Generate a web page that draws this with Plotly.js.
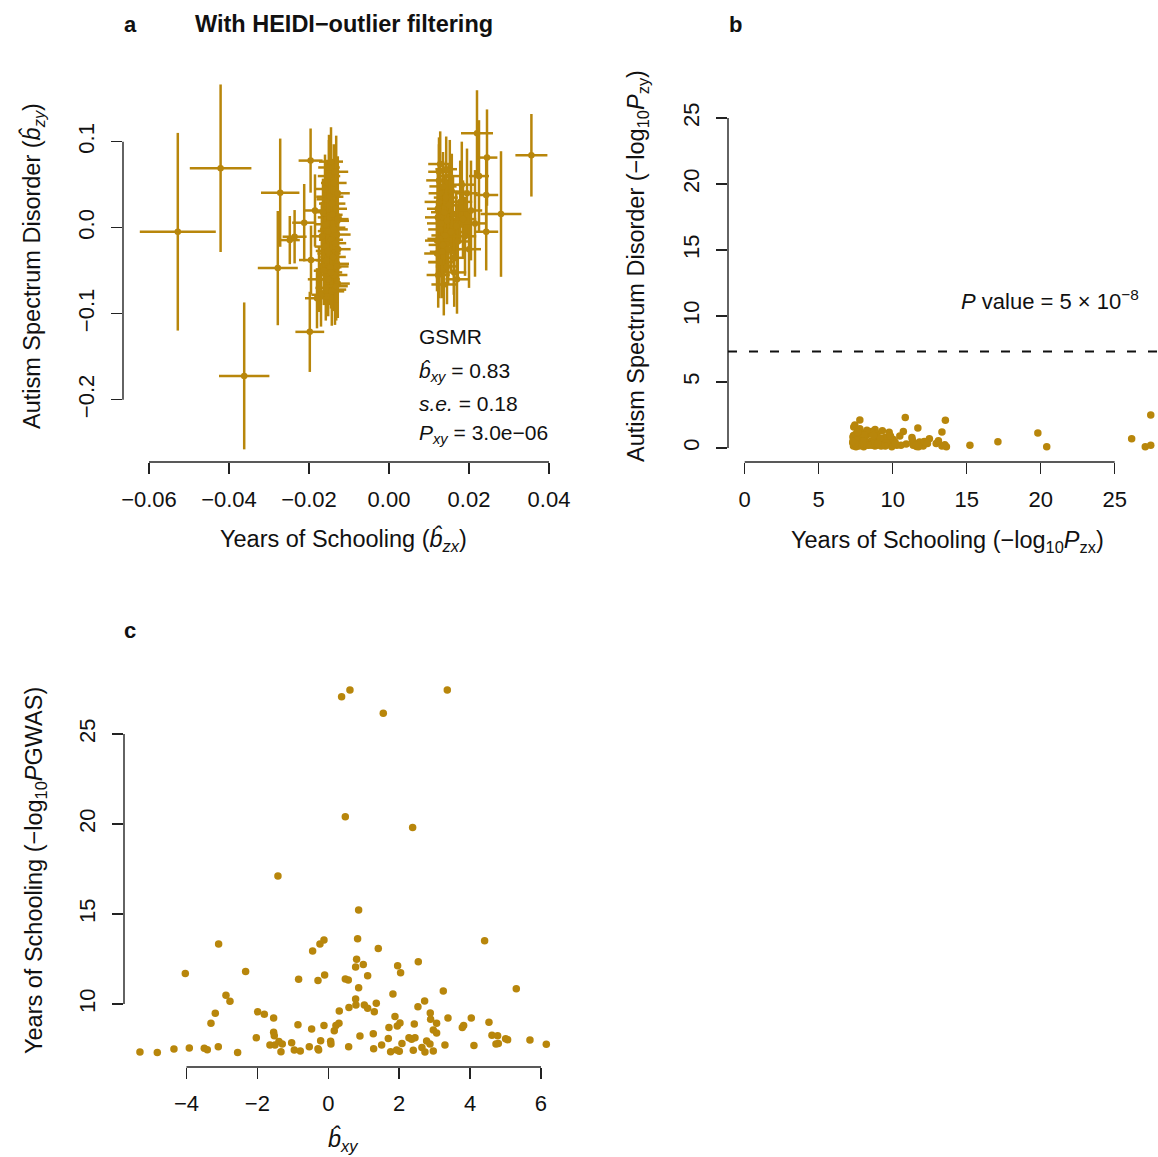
<!DOCTYPE html>
<html><head><meta charset="utf-8">
<script src="https://cdn.plot.ly/plotly-3.0.1.min.js"></script>
<style>html,body{margin:0;padding:0;background:#fff}#chart{width:1158px;height:1157px}</style>
</head><body><div id="chart"></div>
<script>
const W = 1158, H = 1157;
const GOLD = '#B8860B';
const FONT = 'Liberation Sans, Arial, Helvetica, sans-serif';

// ---------- Panel a: per-SNP effects (b_zx, b_zy) with standard errors ----------
const bzx = [
 -0.0528, -0.0421, -0.0362, -0.0272, -0.0278, -0.0196, -0.0198, -0.0212, -0.0248, -0.0236,
 -0.0145, -0.0150, -0.0138, -0.0160, -0.0128, -0.0155, -0.0142, -0.0133, -0.0165, -0.0148,
 -0.0129, -0.0158, -0.0140, -0.0152, -0.0130, -0.0168, -0.0145, -0.0135, -0.0160, -0.0127,
 -0.0150, -0.0140, -0.0156, -0.0130, -0.0147, -0.0163, -0.0137, -0.0152, -0.0128, -0.0158,
 -0.0143, -0.0170, -0.0135, -0.0180, -0.0150, -0.0132, -0.0148, -0.0142, -0.0138, -0.0153,
 -0.0145, -0.0132, -0.0195, -0.0185, -0.0175, -0.0128, -0.0130,
 0.0128, 0.0125, 0.0135, 0.0127, 0.0142, 0.0125, 0.0150, 0.0122, 0.0138, 0.0160,
 0.0122, 0.0145, 0.0130, 0.0168, 0.0128, 0.0155, 0.0140, 0.0127, 0.0172, 0.0135,
 0.0148, 0.0120, 0.0162, 0.0132, 0.0123, 0.0137, 0.0163, 0.0145, 0.0178, 0.0185,
 0.0190, 0.0182, 0.0195, 0.0200, 0.0205, 0.0215, 0.0152, 0.0125, 0.0120, 0.0126,
 0.0157, 0.0170, 0.0143, 0.0133, 0.0220, 0.0245, 0.0356, 0.0280, 0.0243, 0.0243, 0.0225
];
const bzy = [
 -0.0047, 0.0691, -0.1723, 0.0407, -0.0470, 0.0780, -0.1211, 0.0058, -0.0144, -0.0105,
 0.0768, 0.060, 0.052, 0.045, 0.040, 0.033, 0.028, 0.022, 0.018, 0.012,
 0.008, 0.004, 0.000, -0.004, -0.008, -0.010, -0.014, -0.018, -0.022, -0.025,
 -0.030, -0.034, -0.038, -0.042, -0.046, -0.050, -0.055, -0.060, -0.065, -0.070,
 -0.074, -0.078, -0.072, -0.082, 0.070, 0.065, 0.036, 0.015, -0.002, -0.027,
 -0.052, -0.068, -0.0376, 0.020, -0.060, 0.010, -0.045,
 0.074, 0.055, 0.048, 0.040, 0.035, 0.030, 0.026, 0.022, 0.018, 0.015,
 0.012, 0.008, 0.005, 0.002, -0.002, -0.005, -0.009, -0.013, -0.016, -0.020,
 -0.025, -0.030, -0.035, -0.040, -0.055, -0.066, -0.052, -0.045, 0.030, 0.010,
 -0.010, 0.050, 0.040, -0.025, 0.020, 0.005, 0.060, 0.065, -0.015, -0.040,
 0.042, -0.060, 0.068, -0.028, 0.1098, 0.0815, 0.0842, 0.0159, 0.038, -0.0047, 0.060
];
const seZx = [
 0.0095, 0.0077, 0.0063, 0.0048, 0.0050, 0.0030, 0.0036, 0.0030, 0.0025, 0.0030,
 0.0030, 0.0028, 0.0032, 0.0027, 0.0030, 0.0026, 0.0033, 0.0028, 0.0025, 0.0030,
 0.0029, 0.0027, 0.0031, 0.0026, 0.0034, 0.0025, 0.0030, 0.0028, 0.0026, 0.0031,
 0.0029, 0.0032, 0.0026, 0.0030, 0.0028, 0.0025, 0.0033, 0.0029, 0.0030, 0.0026,
 0.0031, 0.0024, 0.0028, 0.0030, 0.0027, 0.0030, 0.0034, 0.0026, 0.0035, 0.0030,
 0.0028, 0.0029, 0.0030, 0.0030, 0.0028, 0.0027, 0.0029,
 0.0030, 0.0032, 0.0034, 0.0028, 0.0030, 0.0036, 0.0031, 0.0027, 0.0033, 0.0030,
 0.0032, 0.0028, 0.0035, 0.0027, 0.0030, 0.0029, 0.0034, 0.0031, 0.0027, 0.0036,
 0.0030, 0.0032, 0.0028, 0.0033, 0.0029, 0.0031, 0.0030, 0.0028, 0.0030, 0.0033,
 0.0028, 0.0031, 0.0027, 0.0030, 0.0028, 0.0030, 0.0029, 0.0027, 0.0030, 0.0028,
 0.0032, 0.0029, 0.0027, 0.0031, 0.0040, 0.0026, 0.0040, 0.0051, 0.0030, 0.0030, 0.0025
];
const seZy = [
 0.1149, 0.0974, 0.0854, 0.0629, 0.0664, 0.0373, 0.0466, 0.0450, 0.0280, 0.0310,
 0.0400, 0.0420, 0.0450, 0.0400, 0.0430, 0.0460, 0.0480, 0.0420, 0.0390, 0.0450,
 0.0470, 0.0410, 0.0440, 0.0490, 0.0430, 0.0400, 0.0450, 0.0440, 0.0470, 0.0420,
 0.0450, 0.0430, 0.0410, 0.0460, 0.0440, 0.0400, 0.0420, 0.0430, 0.0400, 0.0380,
 0.0400, 0.0370, 0.0410, 0.0350, 0.0380, 0.0420, 0.0460, 0.0440, 0.0500, 0.0450,
 0.0420, 0.0400, 0.0400, 0.0420, 0.0380, 0.0400, 0.0420,
 0.0380, 0.0420, 0.0400, 0.0450, 0.0420, 0.0440, 0.0480, 0.0410, 0.0440, 0.0460,
 0.0430, 0.0470, 0.0440, 0.0410, 0.0450, 0.0460, 0.0440, 0.0420, 0.0440, 0.0460,
 0.0410, 0.0440, 0.0430, 0.0420, 0.0380, 0.0360, 0.0400, 0.0440, 0.0480, 0.0450,
 0.0460, 0.0500, 0.0520, 0.0450, 0.0580, 0.0620, 0.0420, 0.0400, 0.0440, 0.0420,
 0.0440, 0.0400, 0.0380, 0.0450, 0.0500, 0.0560, 0.0480, 0.0730, 0.0450, 0.0450, 0.0650
];

// ---------- Panels b & c: per-SNP values ----------
// bxy: per-SNP b_xy (panel c x); pzx: -log10 P for Years of Schooling (panel c y, panel b x)
// pzy: -log10 P for Autism Spectrum Disorder (panel b y)
const bxy = [
 0.376, 0.611, 1.551, 3.357, 0.480, 2.379, -1.420, 0.856, -3.094, -0.442,
 -0.235, -0.122, 0.827, 1.410, 4.410, -4.034, -2.332, -0.837, -0.291, -0.103,
 0.480, 0.564, 0.799, 0.771, 0.987, 1.110, 0.856, 1.956, 2.040, 2.539,
 1.824, 3.244, 5.303, -2.887, -2.774, -3.188, -3.310, -1.993, -1.805, -1.542,
 -2.031, -1.542, -1.523, -1.646, -1.504, -1.392, -1.298, -1.335, -1.034, -0.959,
 -0.790, -0.856, -0.470, -0.536, -0.273, -0.291, -0.216, -0.122, 0.066, 0.075,
 0.169, 0.216, 0.301, 0.310, 0.574, 0.583, 0.771, 0.780, 1.016, 1.110,
 1.298, 1.354, 0.893, 1.269, 1.279, 1.504, 1.693, 1.711, 1.881, 1.946,
 2.022, 1.758, 1.928, 2.003, 2.078, 2.276, 2.351, 2.445, 2.398, 2.426,
 2.529, 2.717, 2.877, 2.887, 3.056, 2.962, 3.056, 2.774, 2.868, 2.642,
 2.727, 2.962, 3.291, 3.376, 3.780, 3.818, 4.034, 4.109, 4.532, 4.617,
 4.777, 4.730, 4.796, 5.002, 5.059, 5.689, 6.150, -5.313, -4.824, -4.354,
 -3.921, -3.498, -3.413, -3.103, -2.558
];
const pzx = [
 27.07, 27.44, 26.15, 27.44, 20.41, 19.81, 17.11, 15.22, 13.33, 12.94,
 13.33, 13.56, 13.63, 13.09, 13.52, 11.70, 11.81, 11.37, 11.30, 11.61,
 11.39, 11.33, 12.48, 12.06, 12.20, 11.57, 10.91, 12.13, 11.74, 12.35,
 10.56, 10.72, 10.85, 10.48, 10.15, 9.48, 8.93, 9.57, 9.43, 9.22,
 8.13, 8.43, 8.24, 7.72, 7.72, 7.91, 7.78, 7.35, 7.85, 7.44,
 7.39, 8.85, 8.61, 7.63, 7.44, 7.52, 7.96, 8.81, 7.93, 7.78,
 8.52, 8.80, 8.93, 9.61, 7.63, 9.80, 10.28, 9.94, 9.94, 9.76,
 9.57, 10.04, 8.22, 8.35, 7.52, 7.72, 8.09, 8.69, 9.30, 8.78,
 8.94, 7.35, 7.44, 7.37, 7.81, 8.13, 8.04, 8.13, 7.43, 8.89,
 9.85, 10.17, 9.50, 9.15, 8.93, 8.56, 8.39, 7.94, 7.78, 7.59,
 7.33, 7.39, 7.72, 9.22, 8.70, 8.81, 9.22, 7.69, 8.98, 8.26,
 8.24, 7.78, 7.81, 8.07, 8.02, 8.00, 7.76, 7.33, 7.30, 7.50,
 7.56, 7.54, 7.46, 7.63, 7.31
];
const pzy = [
 0.10, 2.50, 0.71, 0.20, 0.10, 1.14, 0.48, 0.20, 1.21, 0.35,
 0.15, 2.10, 0.10, 0.55, 0.25, 1.52, 0.45, 0.30, 0.80, 0.12,
 0.20, 0.60, 0.70, 0.15, 0.40, 0.25, 0.30, 0.50, 0.10, 0.35,
 0.20, 1.25, 2.32, 0.90, 0.45, 0.80, 1.10, 0.40, 0.25, 0.60,
 0.50, 0.30, 1.00, 0.45, 0.20, 0.70, 0.35, 0.15, 0.55, 1.75,
 0.30, 0.65, 0.20, 1.30, 0.60, 0.10, 0.40, 1.40, 0.25, 2.12,
 0.50, 0.15, 0.85, 0.30, 0.90, 0.55, 0.20, 0.70, 0.10, 1.20,
 0.40, 0.65, 0.30, 1.05, 0.50, 0.15, 0.80, 0.35, 1.30, 0.60,
 0.20, 0.95, 0.40, 1.60, 0.25, 0.70, 0.10, 1.15, 0.55, 0.30,
 0.90, 0.35, 0.15, 0.75, 0.45, 1.25, 0.20, 0.60, 1.45, 0.30,
 0.85, 0.50, 1.10, 0.25, 0.95, 0.40, 0.15, 0.65, 0.35, 1.35,
 0.20, 0.70, 0.45, 1.00, 0.30, 0.55, 0.25, 0.80, 0.40, 1.05,
 0.20, 0.60, 0.35, 1.20, 0.50
];
const gwThreshold = 5e-8;

// tick definitions
const aXticks = [-0.06, -0.04, -0.02, 0.00, 0.02, 0.04];
const aXlabels = ['\u22120.06', '\u22120.04', '\u22120.02', '0.00', '0.02', '0.04'];
const aYticks = [-0.2, -0.1, 0.0, 0.1];
const aYlabels = ['\u22120.2', '\u22120.1', '0.0', '0.1'];
const bXticks = [0, 5, 10, 15, 20, 25];
const bYticks = [0, 5, 10, 15, 20, 25];
const cXticks = [-4, -2, 0, 2, 4, 6];
const cXlabels = ['\u22124', '\u22122', '0', '2', '4', '6'];
const cYticks = [10, 15, 20, 25];

// ---------- layout geometry (pixels) ----------
const dom = {
  ax: [123 / W, 562 / W], ay: [1 - 462 / H, 1 - 72 / H],
  bx: [728 / W, 1], by: [1 - 462 / H, 1 - 72 / H],
  cx: [124 / W, 563 / W], cy: [1 - 1067 / H, 1 - 675 / H]
};
const rng = {
  ax: [-0.0665, 0.04325], ay: [-0.2724, 0.1810],
  bx: [-1.13, 27.93], by: [-1.06, 28.48],
  cx: [-5.763, 6.621], cy: [6.5, 28.28]
};

function axisBase(extra) {
  return Object.assign({
    showgrid: false, zeroline: false, showline: false,
    ticks: 'outside', ticklen: 11, tickwidth: 1.4, tickcolor: '#222',
    tickfont: {family: FONT, size: 22, color: '#111'},
    automargin: false, tickmode: 'array'
  }, extra);
}
function toPaper(v, d, r) { return d[0] + (v - r[0]) / (r[1] - r[0]) * (d[1] - d[0]); }
function hAxisLine(ticks, d, r, ypaper) {
  return {type: 'line', xref: 'paper', yref: 'paper',
    x0: toPaper(ticks[0], d, r), x1: toPaper(ticks[ticks.length - 1], d, r),
    y0: ypaper, y1: ypaper, line: {color: '#222', width: 1.4}};
}
function vAxisLine(ticks, d, r, xpaper) {
  return {type: 'line', xref: 'paper', yref: 'paper',
    y0: toPaper(ticks[0], d, r), y1: toPaper(ticks[ticks.length - 1], d, r),
    x0: xpaper, x1: xpaper, line: {color: '#222', width: 1.4}};
}

const traces = [
  {type: 'scatter', mode: 'markers', x: bzx, y: bzy, xaxis: 'x', yaxis: 'y',
   marker: {color: GOLD, size: 6.5},
   error_x: {type: 'data', array: seZx, visible: true, color: GOLD, thickness: 2.5, width: 0},
   error_y: {type: 'data', array: seZy, visible: true, color: GOLD, thickness: 2.5, width: 0},
   hoverinfo: 'skip', showlegend: false},
  {type: 'scatter', mode: 'markers', x: pzx, y: pzy, xaxis: 'x2', yaxis: 'y2',
   marker: {color: GOLD, size: 7.5}, hoverinfo: 'skip', showlegend: false},
  {type: 'scatter', mode: 'markers', x: bxy, y: pzx, xaxis: 'x3', yaxis: 'y3',
   marker: {color: GOLD, size: 7.5}, hoverinfo: 'skip', showlegend: false}
];

function ann(text, xp, yp, opts) {
  return Object.assign({text: text, x: xp / W, y: 1 - yp / H, xref: 'paper', yref: 'paper',
    showarrow: false, xanchor: 'center', yanchor: 'middle',
    font: {family: FONT, size: 23.5, color: '#111'}}, opts || {});
}
const hat = 'b\u0302';
const annotations = [
  ann('<b>a</b>', 130, 24, {font: {family: FONT, size: 22, color: '#111'}}),
  ann('<b>b</b>', 735, 24, {font: {family: FONT, size: 22, color: '#111'}}),
  ann('<b>c</b>', 130, 630, {font: {family: FONT, size: 22, color: '#111'}}),
  ann('<b>With HEIDI\u2212outlier filtering</b>', 193, 24, {xanchor: 'left', font: {family: FONT, size: 23.5, color: '#111'}}),
  ann('Autism Spectrum Disorder (<i>' + hat + '</i><sub><i>zy</i></sub>)', 33, 266, {textangle: -90}),
  ann('Years of Schooling (<i>' + hat + '</i><sub><i>zx</i></sub>)', 343, 540),
  ann('GSMR', 417, 337, {xanchor: 'left', font: {family: FONT, size: 21, color: '#111'}}),
  ann('<i>' + hat + '</i><sub><i>xy</i></sub> = 0.83', 417, 372, {xanchor: 'left', font: {family: FONT, size: 21, color: '#111'}}),
  ann('<i>s.e.</i> = 0.18', 417, 404, {xanchor: 'left', font: {family: FONT, size: 21, color: '#111'}}),
  ann('<i>P</i><sub><i>xy</i></sub> = 3.0e\u221206', 417, 434, {xanchor: 'left', font: {family: FONT, size: 21, color: '#111'}}),
  ann('Autism Spectrum Disorder (\u2212log<sub>10</sub><i>P</i><sub>zy</sub>)', 638, 266, {textangle: -90}),
  ann('Years of Schooling (\u2212log<sub>10</sub><i>P</i><sub>zx</sub>)', 947, 541),
  ann('<i>P</i> value = 5 \u00d7 10<sup>\u22128</sup>', 1050, 300, {font: {family: FONT, size: 22, color: '#111'}}),
  ann('Years of Schooling (\u2212log<sub>10</sub><i>P</i>GWAS)', 35, 871, {textangle: -90}),
  ann('<i>' + hat + '</i><sub><i>xy</i></sub>', 343, 1140)
];

const shapes = [
  hAxisLine(aXticks, dom.ax, rng.ax, dom.ay[0]),
  vAxisLine(aYticks, dom.ay, rng.ay, dom.ax[0]),
  hAxisLine(bXticks, dom.bx, rng.bx, dom.by[0]),
  vAxisLine(bYticks, dom.by, rng.by, dom.bx[0]),
  hAxisLine(cXticks, dom.cx, rng.cx, dom.cy[0]),
  vAxisLine(cYticks, dom.cy, rng.cy, dom.cx[0]),
  {type: 'line', xref: 'x2 domain', yref: 'y2', x0: 0, x1: 1,
   y0: -Math.log10(gwThreshold), y1: -Math.log10(gwThreshold),
   line: {color: '#111', width: 2, dash: '9px,12px'}}
];

const layout = {
  width: W, height: H, margin: {l: 0, r: 0, t: 0, b: 0},
  paper_bgcolor: '#fff', plot_bgcolor: 'rgba(0,0,0,0)', showlegend: false,
  xaxis: axisBase({domain: dom.ax, range: rng.ax, anchor: 'y', tickvals: aXticks, ticktext: aXlabels, ticklabelstandoff: 7}),
  yaxis: axisBase({domain: dom.ay, range: rng.ay, anchor: 'x', tickvals: aYticks, ticktext: aYlabels, tickangle: -90, ticklabelstandoff: 8}),
  xaxis2: axisBase({domain: dom.bx, range: rng.bx, anchor: 'y2', tickvals: bXticks, ticktext: bXticks.map(String), ticklabelstandoff: 7}),
  yaxis2: axisBase({domain: dom.by, range: rng.by, anchor: 'x2', tickvals: bYticks, ticktext: bYticks.map(String), tickangle: -90, ticklabelstandoff: 8}),
  xaxis3: axisBase({domain: dom.cx, range: rng.cx, anchor: 'y3', tickvals: cXticks, ticktext: cXlabels, ticklabelstandoff: 6}),
  yaxis3: axisBase({domain: dom.cy, range: rng.cy, anchor: 'x3', tickvals: cYticks, ticktext: cYticks.map(String), tickangle: -90, ticklabelstandoff: 8}),
  annotations: annotations, shapes: shapes
};

Plotly.newPlot('chart', traces, layout, {staticPlot: true, displayModeBar: false});
</script></body></html>
